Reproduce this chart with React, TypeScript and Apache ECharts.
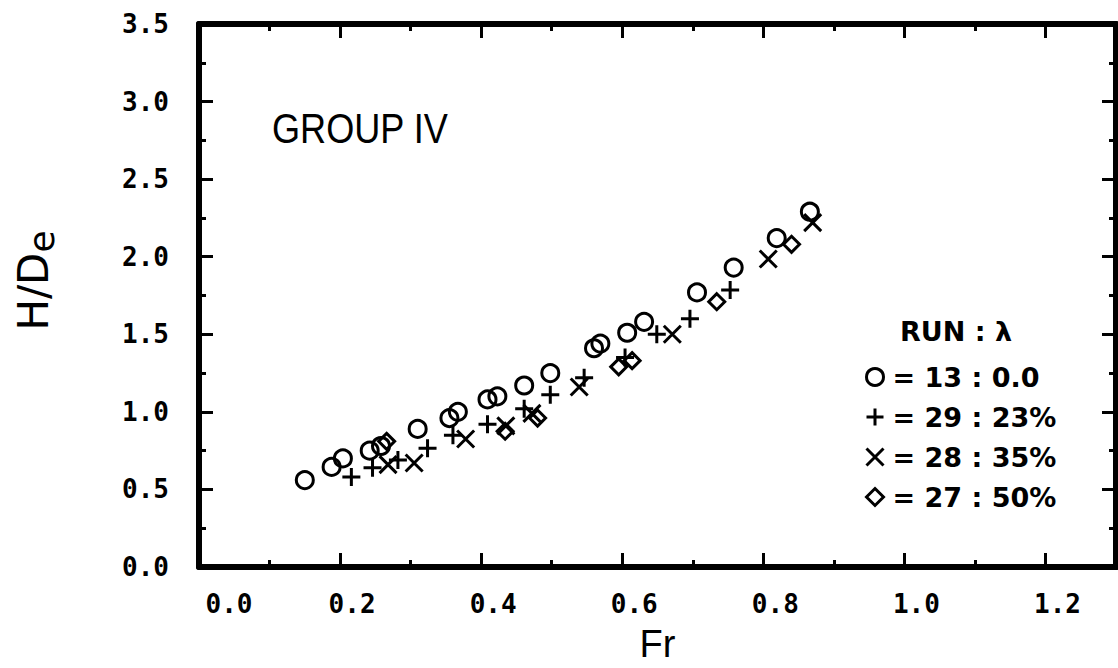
import React, { useEffect, useRef } from 'react';
import * as echarts from 'echarts';

// Run 13 : λ = 0.0 (circles)
const run13Fr = [0.150, 0.188, 0.204, 0.242, 0.258, 0.310, 0.355, 0.367, 0.409, 0.423, 0.461, 0.498, 0.560, 0.569, 0.607, 0.631, 0.706, 0.758, 0.819, 0.866];
const run13H = [0.56, 0.645, 0.70, 0.75, 0.78, 0.89, 0.96, 1.00, 1.08, 1.10, 1.17, 1.25, 1.41, 1.44, 1.51, 1.58, 1.77, 1.93, 2.12, 2.29];
// Run 29 : λ = 23% (plus)
const run29Fr = [0.216, 0.246, 0.282, 0.324, 0.360, 0.409, 0.461, 0.498, 0.546, 0.604, 0.649, 0.696, 0.753];
const run29H = [0.58, 0.64, 0.69, 0.765, 0.85, 0.92, 1.02, 1.11, 1.22, 1.35, 1.50, 1.60, 1.785];
// Run 28 : λ = 35% (cross)
const run28Fr = [0.268, 0.305, 0.378, 0.435, 0.472, 0.539, 0.671, 0.807, 0.870];
const run28H = [0.66, 0.67, 0.825, 0.91, 0.99, 1.16, 1.50, 1.985, 2.22];
// Run 27 : λ = 50% (diamond)
const run27Fr = [0.266, 0.434, 0.480, 0.595, 0.614, 0.734, 0.840];
const run27H = [0.81, 0.875, 0.96, 1.29, 1.33, 1.71, 2.08];

const legendNames = ['= 13 : 0.0', '= 29 : 23%', '= 28 : 35%', '= 27 : 50%'];
const legendTitle = 'RUN : λ';
const groupLabel = 'GROUP IV';
const xName = 'Fr';

const PLUS = 'path://M10,0 L10,20 M0,10 L20,10';
const CROSS = 'path://M0,0 L20,20 M20,0 L0,20';

const zip = (a: number[], b: number[]) => a.map((v, i) => [v, b[i]]);

const tickFont = { fontFamily: 'DejaVu Sans Mono', fontWeight: 'bold' as const, fontSize: 26, color: '#000' };

export default function App() {
  const ref = useRef<HTMLDivElement>(null);
  useEffect(() => {
    const chart = echarts.init(ref.current!, null, { renderer: 'svg' });
    const line = { show: true, onZero: false, lineStyle: { color: '#000', width: 6 } };
    const tick = { show: true, inside: true, length: 14, lineStyle: { color: '#000', width: 3 } };
    const minor = { show: true, splitNumber: 2, length: 7, lineStyle: { color: '#000', width: 3 } };
    const itemStyle = { color: 'rgba(0,0,0,0)', borderColor: '#000', borderWidth: 3, opacity: 1 };
    const xBase = {
      type: 'value', min: 0, max: 1.3, interval: 0.2,
      axisLine: line, axisTick: tick, minorTick: minor,
      splitLine: { show: false }, minorSplitLine: { show: false },
    };
    const yBase = {
      type: 'value', min: 0, max: 3.5, interval: 0.5,
      axisLine: line, axisTick: tick, minorTick: minor,
      splitLine: { show: false }, minorSplitLine: { show: false },
    };
    chart.setOption({
      animation: false,
      backgroundColor: '#fff',
      grid: { left: 199, right: 2, top: 24, bottom: 98, containLabel: false },
      xAxis: [
        {
          ...xBase, position: 'bottom',
          axisLabel: {
            show: true, margin: 24, showMaxLabel: false,
            formatter: (v: number) => (v === 0 ? `{f|${v.toFixed(1)}}` : `{o|${v.toFixed(1)}}`),
            rich: {
              f: { ...tickFont, padding: [0, 0, 0, 60] },
              o: { ...tickFont, padding: [0, 0, 0, 24] },
            },
          },
          name: xName, nameLocation: 'middle', nameGap: 58,
          nameTextStyle: { fontFamily: 'Liberation Sans', fontSize: 38, color: '#000' },
        },
        { ...xBase, position: 'top', axisLabel: { show: false } },
      ],
      yAxis: [
        {
          ...yBase, position: 'left',
          axisLabel: { show: true, margin: 30, formatter: (v: number) => v.toFixed(1), ...tickFont },
          name: 'H/D{e|e}', nameLocation: 'middle', nameRotate: 90, nameGap: 140,
          nameTextStyle: {
            fontFamily: 'DejaVu Sans', fontSize: 42, color: '#000', padding: [0, 0, 0, 30],
            rich: { e: { fontFamily: 'DejaVu Sans', fontSize: 36, color: '#000', verticalAlign: 'bottom', padding: [16, 0, 0, 0] } },
          },
        },
        { ...yBase, position: 'right', axisLabel: { show: false } },
      ],
      legend: {
        show: true, orient: 'vertical', left: 860, top: 358,
        itemWidth: 17, itemHeight: 17, itemGap: 12,
        data: legendNames,
        itemStyle: { color: 'rgba(0,0,0,0)', borderColor: '#000', borderWidth: 3, opacity: 1 },
        textStyle: { fontFamily: 'DejaVu Sans', fontWeight: 'bold', fontSize: 27, lineHeight: 28, color: '#000', padding: [0, 0, 0, 4] },
      },
      graphic: [
        {
          type: 'text', left: 272, top: 108, scaleX: 0.86,
          style: { text: groupLabel, fontFamily: 'Liberation Sans', fontSize: 42, fill: '#000' },
        },
        {
          type: 'text', left: 900, top: 318,
          style: { text: legendTitle, fontFamily: 'DejaVu Sans', fontWeight: 'bold', fontSize: 27, fill: '#000' },
        },
      ],
      series: [
        { name: legendNames[0], type: 'scatter', symbol: 'circle', symbolSize: 17, itemStyle, data: zip(run13Fr, run13H) },
        { name: legendNames[1], type: 'scatter', symbol: PLUS, symbolSize: 18, itemStyle, data: zip(run29Fr, run29H) },
        { name: legendNames[2], type: 'scatter', symbol: CROSS, symbolSize: 17, itemStyle, data: zip(run28Fr, run28H) },
        { name: legendNames[3], type: 'scatter', symbol: 'diamond', symbolSize: 16, itemStyle, data: zip(run27Fr, run27H) },
      ],
    });
    return () => chart.dispose();
  }, []);
  return <div ref={ref} style={{ position: 'fixed', left: 0, top: 0, width: 1118, height: 668, background: '#fff' }} />;
}
